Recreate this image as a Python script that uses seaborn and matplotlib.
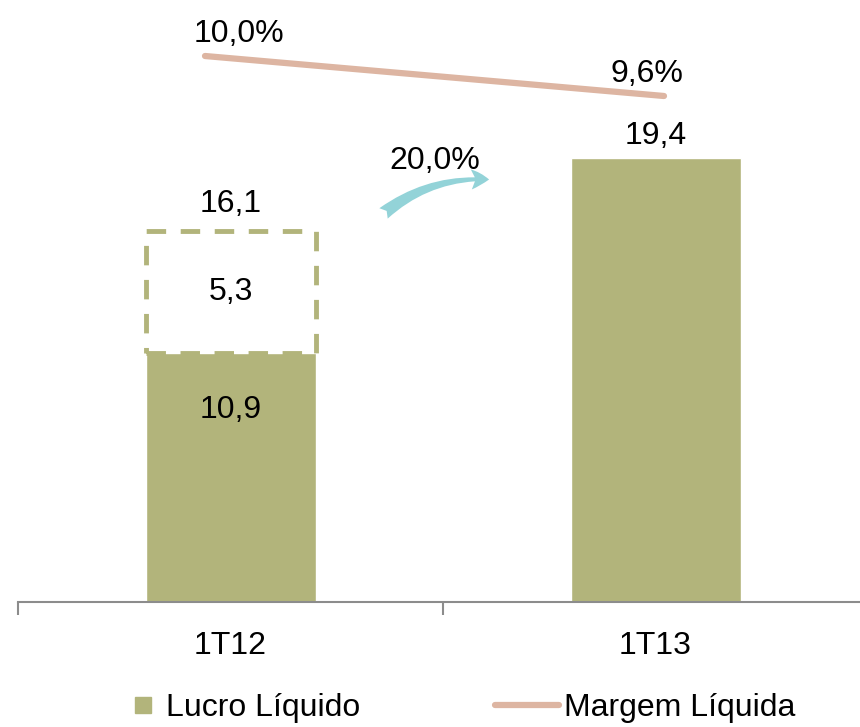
import numpy as np
import pandas as pd
import seaborn as sns
import matplotlib
matplotlib.use("Agg")
import matplotlib.pyplot as plt
from matplotlib.patches import FancyArrowPatch
from matplotlib.lines import Line2D

# data
periodos = ['1T12', '1T13']
lucro_liquido = [10.9, 19.4]
ajuste = [5.3, 0.0]          # dashed (non recurring) part on top of 1T12
lucro_total = [16.1, 19.4]
margem_liquida = [10.0, 9.6]
crescimento = '20,0%'

OLIVE = '#B2B47B'
ROSE = '#DDB5A2'
TEAL = '#93D3D8'
FS = 23

sns.set_theme(style='white')
plt.rcParams['font.family'] = ['Liberation Sans', 'DejaVu Sans']
plt.rcParams['text.color'] = 'black'


def fmt(v, suffix=''):
    return f'{v:.1f}{suffix}'.replace('.', ',')


fig = plt.figure(figsize=(8.6, 7.27), dpi=100)
ax = fig.add_axes([18 / 860, 1 - 602 / 727, 850 / 860, 602 / 727])

df = pd.DataFrame({'periodo': periodos, 'lucro': lucro_liquido})
sns.barplot(data=df, x='periodo', y='lucro', color=OLIVE, saturation=1,
            width=0.4, ax=ax)

# dashed box for the adjustment
ax.bar([0], [ajuste[0]], bottom=[lucro_liquido[0]], width=0.4,
       facecolor='white', edgecolor=OLIVE, linestyle=(0, (4, 3)),
       linewidth=3.5, zorder=3)

ax.set_xlim(-0.5, 1.5)
ax.set_ylim(0, 26.3)
ax.set_xlabel('')
ax.set_ylabel('')
ax.set_yticks([])
for s in ['top', 'right', 'left']:
    ax.spines[s].set_visible(False)
ax.spines['bottom'].set_color('#8C8C8C')
ax.spines['bottom'].set_linewidth(1.5)
ax.set_xticks([-0.5, 0.5, 1.5], minor=True)
ax.tick_params(axis='x', which='minor', length=9, width=1.5, color='#8C8C8C',
               direction='out', bottom=True)
ax.tick_params(axis='x', which='major', length=0, labelsize=FS, pad=21,
               labelcolor='black')

# value labels
ax.text(0, lucro_total[0] + 1.3, fmt(lucro_total[0]),
        ha='center', va='center', fontsize=FS)
ax.text(0, lucro_liquido[0] + ajuste[0] / 2, fmt(ajuste[0]),
        ha='center', va='center', fontsize=FS, zorder=4)
ax.text(0, lucro_liquido[0] * 0.77, fmt(lucro_liquido[0]),
        ha='center', va='center', fontsize=FS)
ax.text(1, lucro_liquido[1] + 0.95, fmt(lucro_liquido[1]),
        ha='center', va='center', fontsize=FS)

# growth arrow
arrow = FancyArrowPatch((0.355, 16.9), (0.615, 18.45),
                        connectionstyle='arc3,rad=-0.2',
                        arrowstyle='fancy,head_width=0.9,head_length=0.8,tail_width=0.6',
                        mutation_scale=16, color=TEAL, lw=0, zorder=4)
ax.add_patch(arrow)
ax.text(0.48, 19.25, crescimento, ha='center', va='center', fontsize=FS)

# margin line on a secondary axis
ax2 = ax.twinx()
sns.lineplot(x=[-0.06, 1.02], y=margem_liquida, color=ROSE, linewidth=4.5,
             ax=ax2, solid_capstyle='round')
ax2.set_ylim(4.54, 10.56)
ax2.set_yticks([])
ax2.set_ylabel('')
for s in ['top', 'right', 'left', 'bottom']:
    ax2.spines[s].set_visible(False)
ax2.text(0.02, 10.22, fmt(margem_liquida[0], '%'),
         ha='center', va='center', fontsize=FS)
ax2.text(0.98, 9.82, fmt(margem_liquida[1], '%'),
         ha='center', va='center', fontsize=FS)

# legends (two separate ones so each handle keeps its own length)
leg_y = 1 - 708 / 727
h_bar = Line2D([0], [0], marker='s', linestyle='none', markersize=11,
               markerfacecolor=OLIVE, markeredgecolor=OLIVE)
h_line = Line2D([0], [0], color=ROSE, linewidth=4.5)
leg1 = fig.legend([h_bar], ['Lucro Líquido'], loc='center left',
                  bbox_to_anchor=(132 / 860, leg_y), frameon=False,
                  fontsize=FS, handlelength=0.7, handletextpad=0.35,
                  borderpad=0, borderaxespad=0)
leg2 = fig.legend([h_line], ['Margem Líquida'], loc='center left',
                  bbox_to_anchor=(495 / 860, leg_y), frameon=False,
                  fontsize=FS, handlelength=2.0, handletextpad=0.15,
                  borderpad=0, borderaxespad=0)

fig.savefig('out.png', dpi=100)
